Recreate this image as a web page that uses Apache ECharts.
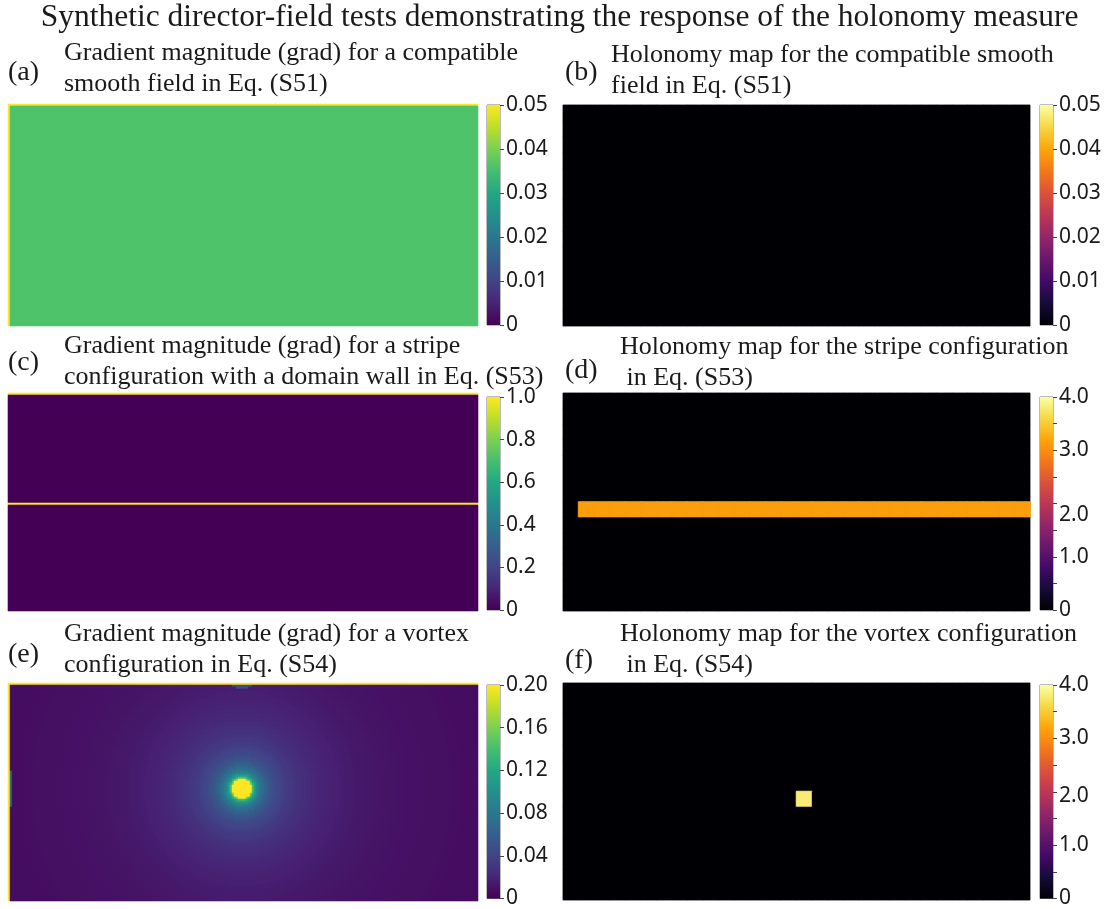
<!DOCTYPE html>
<html>
<head>
<meta charset="utf-8">
<script src="https://cdn.jsdelivr.net/npm/echarts@6/dist/echarts.min.js"></script>
<style>
  html, body { margin: 0; padding: 0; background: #ffffff; }
  #chart { width: 1119px; height: 909px; }
</style>
</head>
<body>
<div id="chart"></div>
<script>
// ---------------- data ----------------
// fine grid for the gradient-magnitude maps (a), (c), (e)
const gradCols = 235;
const gradRowsA = 111;
const gradRowsC = 109;
const gradRowsE = 109;
// coarse plaquette grid for the holonomy maps (b), (d), (f)
const holCols = 30;
const holRows = 14;

// (a) compatible smooth field: uniform interior, saturated first row / first column
const smoothInterior = 0.036;
const smoothTopEdge = 0.05;
const smoothLeftEdge = 0.05;

// (c) stripe with a domain wall
const stripeInterior = 0.0;
const stripeTopEdge = 1.0;
const stripeWallRow = 55;
const stripeWallValue = 1.0;

// (e) vortex: core cell and radial profile of grad (radius in pixels -> value)
const vortexCore = [117, 53];
const vortexRadiusPx = [0, 10, 11, 12, 13, 14, 15, 16, 17, 18, 19, 20, 22, 24, 26, 28, 30, 32, 34, 36, 38, 40, 43, 46, 49, 52, 55, 58, 61, 65, 69, 73, 77, 81, 86, 90, 94, 98, 103, 108, 113, 118, 124, 130, 136, 143, 150, 157, 165, 173, 182, 191, 200, 210, 220, 230, 240, 260];
const vortexGrad = [0.2, 0.16, 0.14, 0.125, 0.112, 0.102, 0.095, 0.089, 0.084, 0.079, 0.075, 0.071, 0.065, 0.06, 0.056, 0.052, 0.049, 0.046, 0.044, 0.042, 0.04, 0.038, 0.036, 0.034, 0.0322, 0.0306, 0.029, 0.0278, 0.0266, 0.0252, 0.0238, 0.0225, 0.0213, 0.0203, 0.019, 0.0182, 0.0175, 0.0168, 0.016, 0.0152, 0.0145, 0.0139, 0.0133, 0.0127, 0.0121, 0.0115, 0.011, 0.0105, 0.01, 0.0095, 0.0091, 0.0087, 0.0083, 0.0079, 0.0076, 0.0073, 0.007, 0.0066];
const vortexEdgeValue = 0.2;
// boundary artefacts: [col, row, half-width (cells), half-height (cells), value]
const vortexSpots = [[117, 0, 5, 3.5, 0.045], [0, 53, 2, 13, 0.07]];

// (b) holonomy of the smooth field: zero everywhere
const smoothHolonomy = 0.0;
// (d) holonomy of the stripe: one row of plaquettes
const stripeHolRow = 7;
const stripeHolColRange = [1, 29];
const stripeHolValue = 3.14;
// (f) holonomy of the vortex: one plaquette
const vortexHolCell = [15, 7];
const vortexHolValue = 3.8;

// colour-bar ranges, tick spacing and tick labels
const cbRangeA = [0, 0.05], cbStepA = 0.01, cbLabelsA = ['0', '0.01', '0.02', '0.03', '0.04', '0.05'];
const cbRangeB = [0, 0.05], cbStepB = 0.01, cbLabelsB = ['0', '0.01', '0.02', '0.03', '0.04', '0.05'];
const cbRangeC = [0, 1.0],  cbStepC = 0.2,  cbLabelsC = ['0', '0.2', '0.4', '0.6', '0.8', '1.0'];
const cbRangeD = [0, 4.0],  cbStepD = 0.5,  cbLabelsD = ['0', '', '1.0', '', '2.0', '', '3.0', '', '4.0'];
const cbRangeE = [0, 0.2],  cbStepE = 0.04, cbLabelsE = ['0', '0.04', '0.08', '0.12', '0.16', '0.20'];
const cbRangeF = [0, 4.0],  cbStepF = 0.5,  cbLabelsF = ['0', '', '1.0', '', '2.0', '', '3.0', '', '4.0'];

// colormaps
const viridis = ['#440154', '#482475', '#414487', '#355f8d', '#2a788e', '#21918c', '#22a884', '#44bf70', '#7ad151', '#bddf26', '#fde725'];
const inferno = ['#000004', '#160b39', '#420a68', '#6a176e', '#932667', '#bc3754', '#dd513a', '#f37819', '#fca50a', '#f6d746', '#fcffa4'];

// titles
const superTitle = 'Synthetic director-field tests demonstrating the response of the holonomy measure';
const panelLetters = ['(a)', '(b)', '(c)', '(d)', '(e)', '(f)'];
const panelTitles = [
  'Gradient magnitude (grad) for a compatible\nsmooth field in Eq. (S51)',
  'Holonomy map for the compatible smooth\nfield in Eq. (S51)',
  'Gradient magnitude (grad) for a stripe\nconfiguration with a domain wall in Eq. (S53)',
  'Holonomy map for the stripe configuration\n in Eq. (S53)',
  'Gradient magnitude (grad) for a vortex\nconfiguration in Eq. (S54)',
  'Holonomy map for the vortex configuration\n in Eq. (S54)'
];

// ---------------- layout ----------------
const gradCellPx = 2;   // pixel pitch of the fine grid (470 px / 235 cells)

// ---------------- build cell tables ----------------
function buildCells(cols, rows, fn) {
  const out = [];
  for (let r = 0; r < rows; r++) for (let c = 0; c < cols; c++) out.push([c, r, fn(c, r)]);
  return out;
}
function profileAt(dPx) {
  let v = vortexGrad[0];
  for (let i = 0; i < vortexRadiusPx.length; i++) if (dPx >= vortexRadiusPx[i]) v = vortexGrad[i];
  return v;
}
// non-zero plaquettes get a hairline border in their own colormap colour so that
// neighbouring cells join without anti-aliasing seams
function sealCells(cells, range, cmap) {
  return cells.map((d) => d[2] === 0 ? d : {
    value: d,
    itemStyle: { borderWidth: 1, borderColor: echarts.color.lerp((d[2] - range[0]) / (range[1] - range[0]), cmap) }
  });
}
const dataA = buildCells(gradCols, gradRowsA, (c, r) => r === 0 ? smoothTopEdge : (c === 0 ? smoothLeftEdge : smoothInterior));
const dataC = buildCells(gradCols, gradRowsC, (c, r) => r === 0 ? stripeTopEdge : (r === stripeWallRow ? stripeWallValue : stripeInterior));
const dataE = buildCells(gradCols, gradRowsE, (c, r) => {
  if (r === 0 || c === 0) return vortexEdgeValue;
  let v = profileAt(gradCellPx * Math.hypot(c + 0.5 - vortexCore[0], r + 0.5 - vortexCore[1]));
  for (const s of vortexSpots) {
    const q = Math.pow((c + 0.5 - s[0]) / s[2], 2) + Math.pow((r + 0.5 - s[1]) / s[3], 2);
    if (q <= 1) v = Math.max(v, s[4]);
  }
  return v;
});
const dataB = buildCells(holCols, holRows, () => smoothHolonomy);
const dataD = sealCells(buildCells(holCols, holRows, (c, r) => (r === stripeHolRow && c >= stripeHolColRange[0] && c <= stripeHolColRange[1]) ? stripeHolValue : 0), cbRangeD, inferno);
const dataF = sealCells(buildCells(holCols, holRows, (c, r) => (c === vortexHolCell[0] && r === vortexHolCell[1]) ? vortexHolValue : 0), cbRangeF, inferno);

const panels = [
  { data: dataA, cols: gradCols, rows: gradRowsA, cmap: viridis, range: cbRangeA, step: cbStepA, labels: cbLabelsA,
    grid: { left: 8, top: 104, width: 470, height: 222 }, cb: { left: 487, top: 105, width: 13, height: 220 }, frame: false, bg: 'transparent' },
  { data: dataB, cols: holCols, rows: holRows, cmap: inferno, range: cbRangeB, step: cbStepB, labels: cbLabelsB,
    grid: { left: 563, top: 105, width: 467, height: 221 }, cb: { left: 1040, top: 105, width: 13, height: 220 }, frame: true, bg: inferno[0] },
  { data: dataC, cols: gradCols, rows: gradRowsC, cmap: viridis, range: cbRangeC, step: cbStepC, labels: cbLabelsC,
    grid: { left: 8, top: 393, width: 470, height: 218 }, cb: { left: 487, top: 397, width: 13, height: 213 }, frame: false, bg: 'transparent' },
  { data: dataD, cols: holCols, rows: holRows, cmap: inferno, range: cbRangeD, step: cbStepD, labels: cbLabelsD,
    grid: { left: 563, top: 393, width: 467, height: 218 }, cb: { left: 1040, top: 397, width: 13, height: 213 }, frame: true, bg: inferno[0],
    labelShift: { '2.0': 12 } },
  { data: dataE, cols: gradCols, rows: gradRowsE, cmap: viridis, range: cbRangeE, step: cbStepE, labels: cbLabelsE,
    grid: { left: 8, top: 683, width: 470, height: 218 }, cb: { left: 487, top: 685, width: 13, height: 215 }, frame: false, bg: 'transparent' },
  { data: dataF, cols: holCols, rows: holRows, cmap: inferno, range: cbRangeF, step: cbStepF, labels: cbLabelsF,
    grid: { left: 563, top: 683, width: 467, height: 217 }, cb: { left: 1040, top: 685, width: 13, height: 215 }, frame: true, bg: inferno[0],
    labelShift: { '2.0': 4 } }
];

const letterPos = [[8, 59], [565, 59], [8, 349], [565, 357], [8, 641], [565, 647]];
const titlePos = [[64, 38], [611, 40], [64, 331], [620, 332], [64, 619], [620, 619]];

const serif = '"Liberation Serif", "Times New Roman", serif';
const sans = '"Noto Sans", "DejaVu Sans", sans-serif';

const option = {
  backgroundColor: '#ffffff',
  animation: false,
  title: [],
  grid: [], xAxis: [], yAxis: [], visualMap: [], series: []
};

option.title.push({
  text: superTitle, left: 'center', top: 2, padding: 0,
  textStyle: { fontFamily: serif, fontWeight: 'normal', fontSize: 31.5, color: '#1a1a1a' }
});
panelLetters.forEach((t, i) => option.title.push({
  text: t, left: letterPos[i][0], top: letterPos[i][1], padding: 0,
  textStyle: { fontFamily: serif, fontWeight: 'normal', fontSize: 28, color: '#1a1a1a' }
}));
panelTitles.forEach((t, i) => option.title.push({
  text: t, left: titlePos[i][0], top: titlePos[i][1], padding: 0,
  textStyle: { fontFamily: serif, fontWeight: 'normal', fontSize: 26, lineHeight: 31, color: '#1a1a1a' }
}));

panels.forEach((p) => {
  const gi = option.grid.length;
  option.grid.push(Object.assign({ show: true, borderColor: p.frame ? '#9a9a9a' : 'transparent', borderWidth: p.frame ? 1 : 0, backgroundColor: p.bg }, p.grid));
  option.xAxis.push({ type: 'category', gridIndex: gi, data: Array.from({ length: p.cols }, (_, k) => k), show: false, boundaryGap: true });
  option.yAxis.push({ type: 'category', gridIndex: gi, data: Array.from({ length: p.rows }, (_, k) => k), show: false, inverse: true, boundaryGap: true });
  const si = option.series.length;
  option.series.push({
    type: 'heatmap', xAxisIndex: gi, yAxisIndex: gi, data: p.data,
    progressive: 0, silent: true, emphasis: { disabled: true },
    itemStyle: { borderWidth: 0 }
  });
  option.visualMap.push({
    type: 'continuous', show: false, seriesIndex: si, dimension: 2,
    min: p.range[0], max: p.range[1], inRange: { color: p.cmap }
  });
  // colour bar
  const ci = option.grid.length;
  option.grid.push(Object.assign({ show: true, borderColor: '#555555', borderWidth: 0.8, backgroundColor: 'transparent' }, p.cb));
  option.xAxis.push({ type: 'category', gridIndex: ci, data: ['cb'], show: false, boundaryGap: true });
  const shift = p.labelShift || {};
  const rich = {};
  Object.keys(shift).forEach((k, j) => {
    rich['s' + j] = { fontFamily: sans, fontSize: 21, color: '#1a1a1a', padding: [2 * shift[k], 0, 0, 0] };
  });
  option.yAxis.push({
    type: 'value', gridIndex: ci, position: 'right', min: p.range[0], max: p.range[1], interval: p.step,
    axisLine: { show: false }, splitLine: { show: false },
    axisTick: { show: true, inside: false, length: 4, lineStyle: { color: '#444444', width: 1 } },
    axisLabel: {
      show: true, margin: 6, showMinLabel: true, showMaxLabel: true,
      fontFamily: sans, fontSize: 21, color: '#1a1a1a', rich: rich,
      formatter: (v) => {
        const k = Math.round((v - p.range[0]) / p.step);
        const t = p.labels[k] !== undefined ? p.labels[k] : '';
        const j = Object.keys(shift).indexOf(t);
        return j >= 0 ? '{s' + j + '|' + t + '}' : t;
      }
    }
  });
  const stops = p.cmap.map((c, k) => ({ offset: k / (p.cmap.length - 1), color: c }));
  option.series.push({
    type: 'bar', xAxisIndex: ci, yAxisIndex: ci, data: [p.range[1]], barWidth: '100%', silent: true,
    itemStyle: { color: new echarts.graphic.LinearGradient(0, 1, 0, 0, stops) }
  });
});

const chart = echarts.init(document.getElementById('chart'), null, { renderer: 'canvas' });
chart.setOption(option);
</script>
</body>
</html>
